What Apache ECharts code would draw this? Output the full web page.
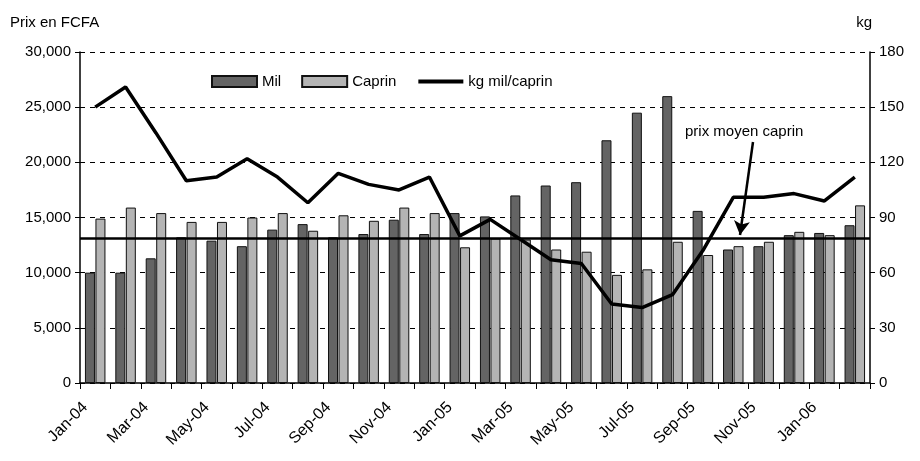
<!DOCTYPE html>
<html>
<head>
<meta charset="utf-8">
<script src="https://cdn.jsdelivr.net/npm/echarts@6/dist/echarts.min.js"></script>
<style>
  html, body { margin: 0; padding: 0; background: #fff; }
  #chart { width: 920px; height: 461px; }
</style>
</head>
<body>
<div id="chart"></div>
<script>
// mois de janv. 2004 à févr. 2006
const months = [
    "Jan-04", "Feb-04", "Mar-04", "Apr-04", "May-04", "Jun-04", "Jul-04", "Aug-04",
    "Sep-04", "Oct-04", "Nov-04", "Dec-04", "Jan-05", "Feb-05", "Mar-05", "Apr-05",
    "May-05", "Jun-05", "Jul-05", "Aug-05", "Sep-05", "Oct-05", "Nov-05", "Dec-05",
    "Jan-06", "Feb-06",
];
// un libellé sur deux
const shownLabels = [
    "Jan-04", "Mar-04", "May-04", "Jul-04", "Sep-04", "Nov-04", "Jan-05",
    "Mar-05", "May-05", "Jul-05", "Sep-05", "Nov-05", "Jan-06",
];
// prix en FCFA
const mil = [
    10000, 10000, 11300, 13200, 12900, 12400, 13900, 14400, 13200, 13500, 14800, 13500,
    15400, 15100, 17000, 17900, 18200, 22000, 24500, 26000, 15600, 12100, 12400, 13400,
    13600, 14300,
];
const caprin = [
    14900, 15900, 15400, 14600, 14600, 15000, 15400, 13800, 15200, 14700, 15900, 15400,
    12300, 13100, 13000, 12100, 11900, 9800, 10300, 12800, 11600, 12400, 12800, 13700,
    13400, 16100,
];
// kg de mil pour un caprin
const kgMilCaprin = [
    150, 161, 136, 110, 112, 122, 112, 98, 114, 108, 105, 112,
    80, 89, 78, 67, 65, 43, 41, 48, 72, 101, 101, 103, 99, 112,
];
const prixMoyenCaprin = 13150;

const font = "Liberation Sans, Arial, sans-serif";
const chart = echarts.init(document.getElementById("chart"));

chart.setOption({
    animation: false,
    textStyle: { fontFamily: font, color: "#000" },
    grid: { left: 80, right: 50, top: 52, bottom: 78 },
    legend: {
        left: 206,
        top: 69,
        itemWidth: 45,
        itemHeight: 11,
        itemGap: 20,
        textStyle: { fontSize: 15, fontFamily: font, color: "#000" },
        data: [
            { name: "Mil", icon: "rect" },
            { name: "Caprin", icon: "rect" },
            { name: "kg mil/caprin", itemStyle: { opacity: 0 }, lineStyle: { width: 4, color: "#000" } },
        ],
    },
    xAxis: {
        type: "category",
        data: months,
        boundaryGap: true,
        axisLine: { lineStyle: { color: "#000", width: 1.5 } },
        axisTick: { show: true, interval: 0, length: 6, lineStyle: { color: "#000" } },
        axisLabel: {
            interval: 0,
            rotate: 45,
            fontSize: 16,
            color: "#000",
            margin: 12,
            padding: [0, 14, 0, 0],
            formatter: (v) => (shownLabels.includes(v) ? v : ""),
        },
    },
    yAxis: [
        {
            type: "value",
            min: 0,
            max: 30000,
            interval: 5000,
            name: "Prix en FCFA",
            nameLocation: "end",
            nameGap: 22,
            nameTextStyle: { fontSize: 15, color: "#000", align: "left", padding: [0, 0, 0, -70] },
            axisLine: { show: true, lineStyle: { color: "#000", width: 1.5 } },
            axisTick: { show: true, length: 5, lineStyle: { color: "#000" } },
            axisLabel: {
                fontSize: 15,
                color: "#000",
                margin: 9,
                formatter: (v) => v.toLocaleString("en-US"),
            },
            splitLine: { show: true, lineStyle: { color: "#000", type: [5, 5], width: 1 } },
        },
        {
            type: "value",
            min: 0,
            max: 180,
            interval: 30,
            name: "kg",
            nameLocation: "end",
            nameGap: 22,
            nameTextStyle: { fontSize: 15, color: "#000", align: "right", padding: [0, -2, 0, 0] },
            axisLine: { show: true, lineStyle: { color: "#000", width: 1.5 } },
            axisTick: { show: true, length: 5, lineStyle: { color: "#000" } },
            axisLabel: { fontSize: 15, color: "#000", margin: 9 },
            splitLine: { show: false },
        },
    ],
    series: [
        {
            name: "Mil",
            type: "bar",
            data: mil,
            barWidth: 10,
            barGap: "5%",
            itemStyle: { color: "#646464", borderColor: "#111", borderWidth: 1 },
        },
        {
            name: "Caprin",
            type: "bar",
            data: caprin,
            barWidth: 10,
            itemStyle: { color: "#b4b4b4", borderColor: "#111", borderWidth: 1 },
            markLine: {
                silent: true,
                symbol: "none",
                label: { show: false },
                lineStyle: { color: "#000", width: 2.5, type: "solid" },
                data: [{ yAxis: prixMoyenCaprin }],
            },
        },
        {
            name: "kg mil/caprin",
            type: "line",
            yAxisIndex: 1,
            data: kgMilCaprin,
            symbol: "none",
            z: 5,
            lineStyle: { color: "#000", width: 3.5 },
            itemStyle: { color: "#000" },
            markLine: {
                silent: true,
                symbol: ["none", "arrow"],
                symbolSize: [12, 14],
                label: { show: false },
                lineStyle: { color: "#000", width: 2.5, type: "solid" },
                data: [[{ x: 753, y: 142 }, { x: 740, y: 235 }]],
            },
        },
    ],
    graphic: [
        {
            type: "text",
            left: 685,
            top: 124,
            style: { text: "prix moyen caprin", fontSize: 15, fontFamily: font, fill: "#000" },
        },
    ],
});
</script>
</body>
</html>
